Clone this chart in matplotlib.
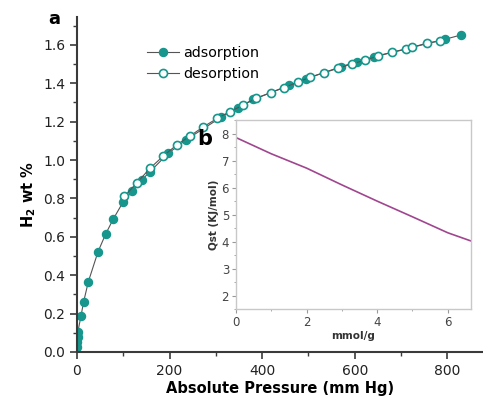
import numpy as np
import matplotlib.pyplot as plt
from matplotlib.ticker import MultipleLocator

# adsorption (filled) - pressure in mm Hg, H2 wt %
ads_p = [0.5, 1, 1.5, 2, 8.6, 14.4, 24.5, 45.4, 62, 78.5, 100, 119.6, 139.7,
         157.7, 197, 235, 312, 347, 381, 458, 494.6, 570, 605, 641, 795, 829]
ads_w = [0.028, 0.054, 0.08, 0.106, 0.1875, 0.262, 0.366, 0.522, 0.615, 0.693,
         0.783, 0.84, 0.896, 0.939, 1.035, 1.104, 1.224, 1.273, 1.316, 1.389,
         1.423, 1.486, 1.512, 1.538, 1.629, 1.651]

# desorption (open)
des_p = [102, 129, 157.7, 186, 215, 244, 273, 303, 330, 359, 386.6, 418, 447,
         476.6, 503, 534, 563, 593, 622, 651, 681, 710, 723, 755, 784]
des_w = [0.81, 0.88, 0.957, 1.02, 1.078, 1.125, 1.173, 1.217, 1.252, 1.286,
         1.321, 1.35, 1.377, 1.405, 1.431, 1.455, 1.477, 1.5, 1.52, 1.542,
         1.561, 1.577, 1.587, 1.608, 1.621]

# inset: isosteric heat
q_x = [0, 1, 2, 3, 4, 5, 6, 6.65]
q_y = [7.85, 7.25, 6.72, 6.1, 5.5, 4.92, 4.33, 4.03]

teal = '#16968c'
dark = '#3a3a3a'

fig = plt.figure(figsize=(4.83, 3.98), dpi=100)
ax = fig.add_axes([0.1594, 0.1156, 0.8406, 0.8417])

ax.plot(ads_p, ads_w, '-', color='#555555', lw=0.8, marker='o', ms=5.8,
        mfc=teal, mec=teal, label='adsorption', zorder=2)
ax.plot(des_p, des_w, '-', color='#555555', lw=0.8, marker='o', ms=5.8,
        mfc='white', mec=teal, mew=1.2, label='desorption', zorder=3)

ax.set_xlim(0, 877)
ax.set_ylim(0, 1.745)
ax.xaxis.set_major_locator(MultipleLocator(200))
ax.xaxis.set_minor_locator(MultipleLocator(100))
ax.yaxis.set_major_locator(MultipleLocator(0.2))
ax.yaxis.set_minor_locator(MultipleLocator(0.1))
ax.yaxis.set_major_formatter(plt.FormatStrFormatter('%.1f'))
for s in ['top', 'right']:
    ax.spines[s].set_visible(False)
for s in ['left', 'bottom']:
    ax.spines[s].set_color(dark)
    ax.spines[s].set_linewidth(1.5)
ax.tick_params(which='major', direction='out', length=5, width=1.2,
               color=dark, labelsize=10, labelcolor='#222222')
ax.tick_params(which='minor', direction='out', length=3, width=1.0, color=dark)
ax.set_xlabel('Absolute Pressure (mm Hg)', fontsize=10.5, fontweight='bold', labelpad=2)
ax.set_ylabel('H$_\\mathbf{2}$ wt %', fontsize=10.5, fontweight='bold')
ax.yaxis.set_label_coords(-0.097, 0.47)
ax.text(-0.04, 0.995, 'a', transform=ax.transAxes, fontsize=13,
        fontweight='bold', ha='right', va='center')

leg = ax.legend(loc='upper left', bbox_to_anchor=(0.155, 0.935), frameon=False,
                fontsize=10.3, handlelength=2.2, handletextpad=0.3,
                labelspacing=0.5, borderpad=0)

# inset
ins = fig.add_axes([0.4886, 0.2229, 0.4859, 0.4756])
ins.plot(q_x, q_y, color='#a0468f', lw=1.2)
ins.set_xlim(0, 6.65)
ins.set_ylim(1.5, 8.5)
ins.xaxis.set_major_locator(MultipleLocator(2))
ins.xaxis.set_minor_locator(MultipleLocator(1))
ins.yaxis.set_major_locator(MultipleLocator(1))
ins.yaxis.set_minor_locator(MultipleLocator(0.5))
for s in ins.spines.values():
    s.set_color('#c8c8c8')
    s.set_linewidth(1.0)
ins.tick_params(which='major', direction='out', length=3, width=0.8,
                color='#999999', labelsize=8.5, labelcolor='#444444', pad=2)
ins.tick_params(which='minor', direction='out', length=1.5, width=0.6, color='#999999')
ins.set_xlabel('mmol/g', fontsize=7.5, fontweight='bold', color='#333333', labelpad=1)
ins.set_ylabel('Qst (KJ/mol)', fontsize=7.5, fontweight='bold', color='#333333', labelpad=2)
ins.text(-0.1, 0.9, 'b', transform=ins.transAxes, fontsize=15,
         fontweight='bold', ha='right', va='center')

fig.savefig('out.png', dpi=100)
